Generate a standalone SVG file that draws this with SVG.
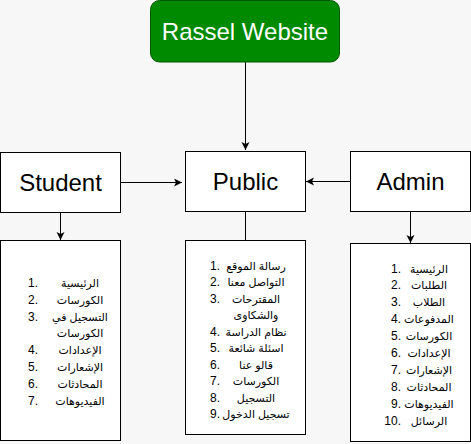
<svg xmlns="http://www.w3.org/2000/svg" width="471" height="444" viewBox="0 0 471 444">
<style>
.box{fill:#ffffff;stroke:#000000;stroke-width:1}
.t{font-family:"Liberation Sans",Arial,"DejaVu Sans",sans-serif;font-size:24px;fill:#000;text-anchor:middle}
.n{font-family:"Liberation Sans",Arial,sans-serif;font-size:12px;fill:#000;text-anchor:end}
.a{font-family:"Liberation Sans","DejaVu Sans","Noto Sans",sans-serif;font-size:11px;fill:#000;text-anchor:middle}
.c{fill:none;stroke:#000;stroke-width:1}
</style>
<defs>
<marker id="ah" markerWidth="10" markerHeight="10" refX="8" refY="4" orient="auto" markerUnits="userSpaceOnUse">
<path d="M0,0 L8,4 L0,8 L2,4 Z" fill="#000"/>
</marker>
</defs>
<rect x="0" y="0" width="471" height="444" fill="#f7f7f7"/>
<g id="connectors">
<line class="c" x1="245.5" y1="62" x2="245.5" y2="150" marker-end="url(#ah)"/>
<line class="c" x1="120" y1="182.5" x2="182" y2="182.5" marker-end="url(#ah)"/>
<line class="c" x1="350" y1="181.5" x2="306" y2="181.5" marker-end="url(#ah)"/>
<line class="c" x1="60.5" y1="212" x2="60.5" y2="240" marker-end="url(#ah)"/>
<line class="c" x1="245.5" y1="211" x2="245.5" y2="240"/>
<line class="c" x1="410.5" y1="211" x2="410.5" y2="243" marker-end="url(#ah)"/>
</g>
<g id="rassel">
<rect x="150.5" y="0.5" width="189" height="61.5" rx="9" fill="#008a00" stroke="#005700"/>
<text class="t" x="245" y="40" style="fill:#ffffff">Rassel Website</text>
</g>
<g id="student">
<rect class="box" x="0.5" y="152.5" width="120" height="60"/>
<text class="t" x="60.5" y="191">Student</text>
</g>
<g id="public">
<rect class="box" x="185.5" y="151.5" width="120" height="60"/>
<text class="t" x="245.5" y="190">Public</text>
</g>
<g id="admin">
<rect class="box" x="350.5" y="151.5" width="120" height="60"/>
<text class="t" x="410.5" y="190">Admin</text>
</g>
<g id="student-list">
<rect class="box" x="0.5" y="240.5" width="120" height="200"/>
<text class="n" x="38" y="287">1.</text><text class="a" x="80" y="287">الرئيسية</text>
<text class="n" x="38" y="304">2.</text><text class="a" x="80" y="304">الكورسات</text>
<text class="n" x="38" y="321">3.</text><text class="a" x="80" y="321">التسجيل في</text>
<text class="a" x="80" y="337">الكورسات</text>
<text class="n" x="38" y="354">4.</text><text class="a" x="80" y="354">الإعدادات</text>
<text class="n" x="38" y="371">5.</text><text class="a" x="80" y="371">الإشعارات</text>
<text class="n" x="38" y="388">6.</text><text class="a" x="80" y="388">المحادثات</text>
<text class="n" x="38" y="405">7.</text><text class="a" x="80" y="405">الفيديوهات</text>
</g>
<g id="public-list">
<rect class="box" x="185.5" y="240.5" width="120" height="194"/>
<text class="n" x="220" y="269.5">1.</text><text class="a" x="256" y="269.5">رسالة الموقع</text>
<text class="n" x="220" y="286">2.</text><text class="a" x="256" y="286">التواصل معنا</text>
<text class="n" x="220" y="302.5">3.</text><text class="a" x="256" y="302.5">المقترحات</text>
<text class="a" x="256" y="319">والشكاوى</text>
<text class="n" x="220" y="335.5">4.</text><text class="a" x="256" y="335.5">نظام الدراسة</text>
<text class="n" x="220" y="352">5.</text><text class="a" x="256" y="352">اسئلة شائعة</text>
<text class="n" x="220" y="368.5">6.</text><text class="a" x="256" y="368.5">قالو عنا</text>
<text class="n" x="220" y="385">7.</text><text class="a" x="256" y="385">الكورسات</text>
<text class="n" x="220" y="401.5">8.</text><text class="a" x="256" y="401.5">التسجيل</text>
<text class="n" x="220" y="418">9.</text><text class="a" x="256" y="418">تسجيل الدخول</text>
</g>
<g id="admin-list">
<rect class="box" x="350.5" y="243.5" width="120" height="198"/>
<text class="n" x="401" y="272.5">1.</text><text class="a" x="429" y="272.5">الرئيسية</text>
<text class="n" x="401" y="289.4">2.</text><text class="a" x="429" y="289.4">الطلبات</text>
<text class="n" x="401" y="306.3">3.</text><text class="a" x="429" y="306.3">الطلاب</text>
<text class="n" x="401" y="323.2">4.</text><text class="a" x="429" y="323.2">المدفوعات</text>
<text class="n" x="401" y="340.1">5.</text><text class="a" x="429" y="340.1">الكورسات</text>
<text class="n" x="401" y="357">6.</text><text class="a" x="429" y="357">الإعدادات</text>
<text class="n" x="401" y="373.9">7.</text><text class="a" x="429" y="373.9">الإشعارات</text>
<text class="n" x="401" y="390.8">8.</text><text class="a" x="429" y="390.8">المحادثات</text>
<text class="n" x="401" y="407.7">9.</text><text class="a" x="429" y="407.7">الفيديوهات</text>
<text class="n" x="401" y="424.6">10.</text><text class="a" x="429" y="424.6">الرسائل</text>
</g>
</svg>
